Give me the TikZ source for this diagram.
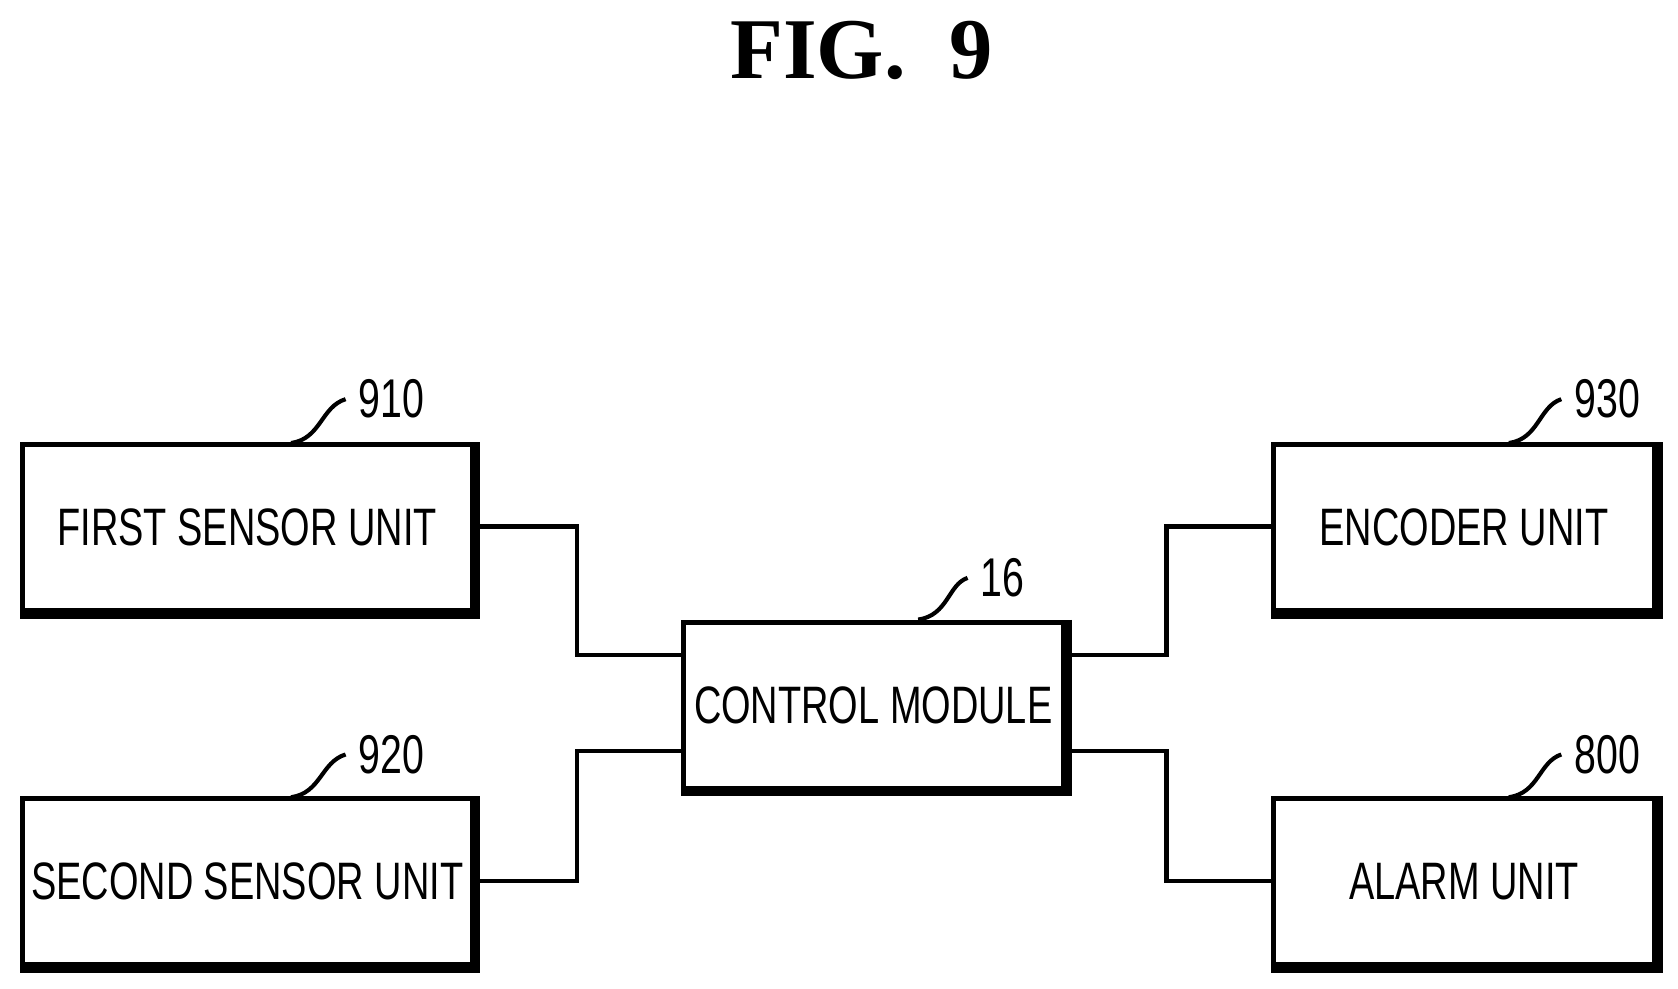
\documentclass[tikz,border=0pt]{standalone}
\usepackage{fontspec}
\setmainfont{Liberation Sans}
\newfontfamily\serifbold{Liberation Serif}
\begin{document}
\begin{tikzpicture}[x=0.01cm,y=-0.01cm,
  box/.style={draw,line width=1.3pt,minimum width=4.2cm,minimum height=1.55cm,inner sep=0pt},
  lbl/.style={font=\fontsize{14}{14}\selectfont},
  num/.style={font=\fontsize{14.5}{14.5}\selectfont},
  ln/.style={line width=1.1pt}]
\useasboundingbox (0,0) rectangle (1568,924);
\newcommand{\cond}[1]{\scalebox{0.72}[1]{#1}}
\node[font=\serifbold\bfseries\fontsize{23}{23}\selectfont] (title) at (805,47) {FIG.\ \ 9};
\node[box,lbl] (s1) at (231,493) {\cond{FIRST SENSOR UNIT}};
\node[box,lbl] (s2) at (231,824) {\cond{SECOND SENSOR UNIT}};
\node[box,lbl,minimum width=3.55cm] (cm) at (816,659) {\cond{CONTROL MODULE}};
\node[box,lbl,minimum width=3.56cm] (en) at (1368,493) {\cond{ENCODER UNIT}};
\node[box,lbl,minimum width=3.56cm] (al) at (1368,824) {\cond{ALARM UNIT}};
\foreach \n in {s1,s2,cm,en,al}{
  \draw[line width=1.9pt] ([xshift=0.6pt]\n.north east) -- ([xshift=0.6pt,yshift=-0.6pt]\n.south east) -- ([yshift=-0.6pt]\n.south west);
}
\coordinate (a1) at (539,492); \coordinate (a2) at (539,612);
\draw[ln] (s1.east |- a1) -- (a1) -- (a2) -- (cm.west |- a2);
\coordinate (b1) at (539,823); \coordinate (b2) at (539,702);
\draw[ln] (s2.east |- b1) -- (b1) -- (b2) -- (cm.west |- b2);
\coordinate (c1) at (1090,612); \coordinate (c2) at (1090,492);
\draw[ln] (cm.east |- c1) -- (c1) -- (c2) -- (en.west |- c2);
\coordinate (d1) at (1090,702); \coordinate (d2) at (1090,823);
\draw[ln] (cm.east |- d1) -- (d1) -- (d2) -- (al.west |- d2);
\node[num] (n910) at (366,373) {\cond{910}};
\node[num] (n920) at (366,705) {\cond{920}};
\node[num] (n16) at (937,540) {\cond{16}};
\node[num] (n930) at (1502,373) {\cond{930}};
\node[num] (n800) at (1502,705) {\cond{800}};
\draw[ln] (272,414) .. controls (300,410) and (300,380) .. (n910.west);
\draw[ln] (272,745) .. controls (300,741) and (300,712) .. (n920.west);
\draw[ln] (858,579) .. controls (886,575) and (886,546) .. (n16.west);
\draw[ln] (1410,414) .. controls (1438,410) and (1438,380) .. (n930.west);
\draw[ln] (1410,745) .. controls (1438,741) and (1438,712) .. (n800.west);
\end{tikzpicture}
\end{document}
